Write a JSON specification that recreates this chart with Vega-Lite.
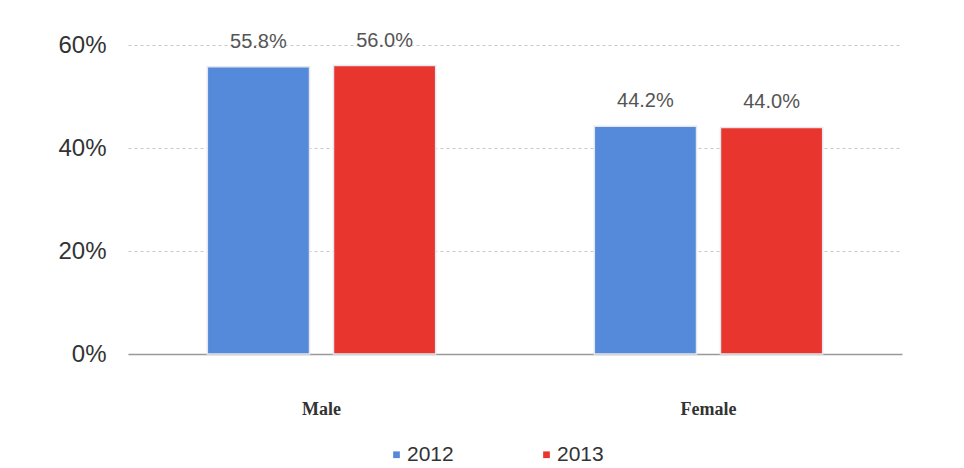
{
  "$schema": "https://vega.github.io/schema/vega-lite/v6.json",
  "width": 774,
  "height": 309,
  "autosize": {"type": "none"},
  "padding": {"left": 128, "top": 45, "right": 62, "bottom": 114},
  "background": "white",
  "config": {"view": {"stroke": null}},
  "data": {
    "values": [
      {"gender": "Male", "year": "2012", "share": 0.558},
      {"gender": "Male", "year": "2013", "share": 0.560},
      {"gender": "Female", "year": "2012", "share": 0.442},
      {"gender": "Female", "year": "2013", "share": 0.440}
    ]
  },
  "encoding": {
    "x": {
      "field": "gender",
      "type": "nominal",
      "sort": ["Male", "Female"],
      "scale": {"paddingInner": 0.41, "paddingOuter": 0.205},
      "axis": {
        "title": null,
        "labelAngle": 0,
        "labelFont": "Liberation Serif",
        "labelFontSize": 18,
        "labelFontWeight": "bold",
        "labelColor": "#333",
        "labelPadding": 46,
        "domainColor": "#999",
        "domainWidth": 1.5,
        "ticks": false,
        "grid": false
      }
    },
    "xOffset": {"field": "year", "type": "nominal", "scale": {"paddingInner": 0.19}},
    "y": {
      "field": "share",
      "type": "quantitative",
      "scale": {"domain": [0, 0.6]},
      "axis": {
        "title": null,
        "values": [0, 0.2, 0.4, 0.6],
        "format": ".0%",
        "labelFont": "Liberation Sans",
        "labelFontSize": 24,
        "labelColor": "#333",
        "labelPadding": 22,
        "domain": false,
        "ticks": false,
        "grid": true,
        "gridDash": [3, 3],
        "gridColor": "#c8c8c8"
      }
    },
    "color": {
      "field": "year",
      "type": "nominal",
      "scale": {"domain": ["2012", "2013"], "range": ["#5589d9", "#e8352e"]},
      "legend": {
        "title": null,
        "orient": "none",
        "direction": "horizontal",
        "legendX": 258,
        "legendY": 399,
        "symbolType": "square",
        "symbolSize": 45,
        "symbolStrokeWidth": 0,
        "labelFont": "Liberation Sans",
        "labelFontSize": 21,
        "labelColor": "#333",
        "labelOffset": 0,
        "columnPadding": 82
      }
    }
  },
  "layer": [
    {"mark": {"type": "bar", "stroke": "#e4e8ee", "strokeWidth": 1.5}},
    {
      "mark": {"type": "text", "dy": -19, "baseline": "alphabetic", "font": "Liberation Sans", "fontSize": 20, "color": "#555"},
      "encoding": {
        "text": {"field": "share", "type": "quantitative", "format": ".1%"},
        "color": {"value": "#555"}
      }
    }
  ]
}
